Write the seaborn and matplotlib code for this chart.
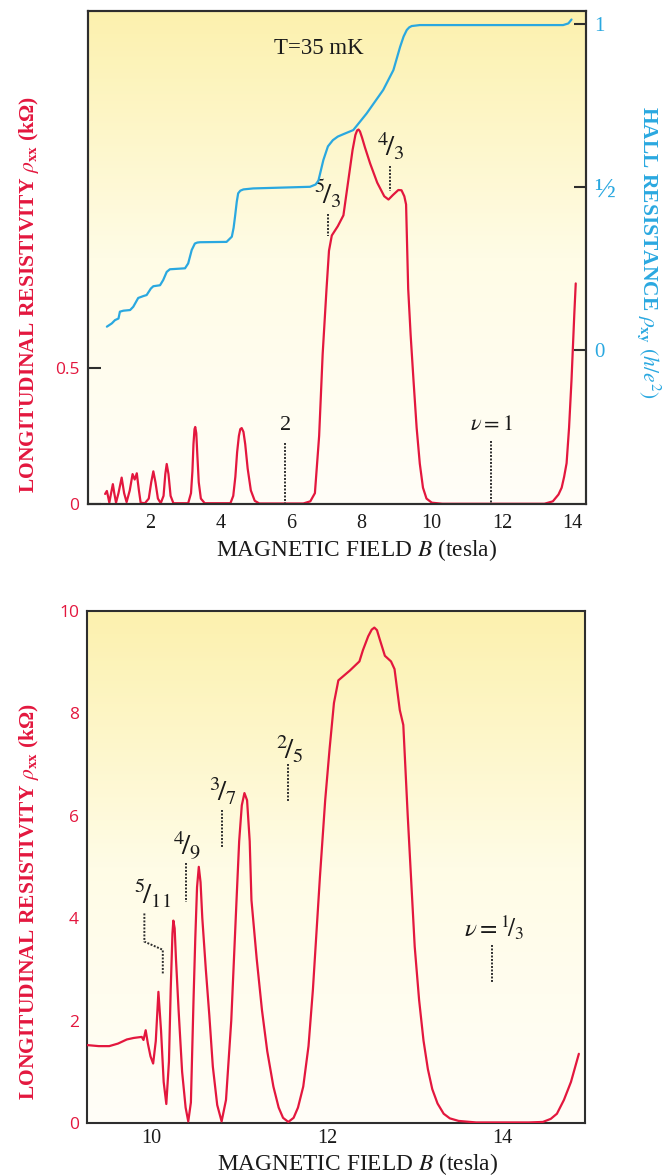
import numpy as np
import pandas as pd
import matplotlib
matplotlib.use("Agg")
import matplotlib.pyplot as plt
from matplotlib.colors import LinearSegmentedColormap
import seaborn as sns

# ---------------- data ----------------
# Top panel: longitudinal resistivity rho_xx (kOhm) vs B (tesla)
top_B = [0.72, 0.77, 0.80, 0.84, 0.89, 0.94, 0.98, 1.03, 1.10, 1.19, 1.26, 1.33,
         1.42, 1.50, 1.56, 1.62, 1.68, 1.73, 1.85, 1.96, 2.03, 2.09, 2.15, 2.22,
         2.30, 2.38, 2.43, 2.47, 2.52, 2.58, 2.66, 3.08, 3.16, 3.20, 3.23, 3.26,
         3.28, 3.31, 3.34, 3.38, 3.44, 3.55, 4.28, 4.36, 4.42, 4.47, 4.52, 4.56,
         4.60, 4.65, 4.70, 4.77, 4.86, 4.97, 5.10, 6.35, 6.55, 6.68, 6.80, 6.90,
         7.01, 7.08, 7.16, 7.33, 7.49, 7.62, 7.75, 7.83, 7.88, 7.92, 7.96, 8.02,
         8.10, 8.25, 8.45, 8.65, 8.77, 8.90, 9.05, 9.14, 9.22, 9.27, 9.33, 9.40,
         9.48, 9.57, 9.66, 9.75, 9.85, 10.0, 10.3, 13.2, 13.44, 13.60, 13.69, 13.76,
         13.83, 13.90, 13.97, 14.05, 14.09]
top_rho = [0.037, 0.048, 0.03, 0.005, 0.04, 0.073, 0.04, 0.005, 0.04, 0.097, 0.04, 0.007,
           0.05, 0.11, 0.09, 0.113, 0.05, 0.005, 0.003, 0.02, 0.08, 0.12, 0.08, 0.02,
           0.003, 0.03, 0.11, 0.147, 0.11, 0.03, 0.003, 0.003, 0.04, 0.12, 0.22, 0.275,
           0.283, 0.26, 0.18, 0.08, 0.02, 0.003, 0.003, 0.03, 0.10, 0.19, 0.25, 0.275,
           0.279, 0.265, 0.22, 0.13, 0.05, 0.012, 0.002, 0.002, 0.01, 0.04, 0.25, 0.55,
           0.79, 0.93, 0.986, 1.02, 1.06, 1.18, 1.30, 1.355, 1.372, 1.375, 1.368, 1.345,
           1.31, 1.25, 1.18, 1.13, 1.118, 1.135, 1.153, 1.152, 1.13, 1.10, 0.79, 0.62,
           0.456, 0.28, 0.148, 0.06, 0.02, 0.005, 0.001, 0.001, 0.01, 0.035, 0.06, 0.10,
           0.15, 0.28, 0.456, 0.70, 0.81]

# Top panel: Hall resistance rho_xy (h/e^2) vs B
hall_B = [0.77, 0.91, 1.00, 1.10, 1.14, 1.24, 1.43, 1.52, 1.66, 1.81, 1.90, 2.02,
          2.09, 2.28, 2.37, 2.47, 2.56, 2.99, 3.08, 3.18, 3.27, 3.34, 3.42, 4.17,
          4.32, 4.37, 4.41, 4.46, 4.50, 4.56, 4.65, 4.93, 6.54, 6.70, 6.78, 6.92,
          7.05, 7.19, 7.33, 7.48, 7.77, 8.15, 8.62, 8.91, 9.10, 9.20, 9.29, 9.36,
          9.43, 9.66, 13.73, 13.88, 13.97]
hall_rxy = [0.072, 0.082, 0.092, 0.097, 0.118, 0.121, 0.123, 0.133, 0.160, 0.166, 0.169, 0.189,
            0.196, 0.199, 0.215, 0.240, 0.248, 0.251, 0.266, 0.307, 0.327, 0.330, 0.331, 0.332,
            0.348, 0.375, 0.409, 0.455, 0.481, 0.489, 0.493, 0.496, 0.501, 0.508, 0.520, 0.583,
            0.625, 0.644, 0.655, 0.662, 0.675, 0.726, 0.798, 0.859, 0.930, 0.962, 0.982, 0.990,
            0.994, 0.997, 0.997, 1.002, 1.014]

# Bottom panel: rho_xx (kOhm) vs B
bot_B = [9.27, 9.40, 9.52, 9.62, 9.72, 9.80, 9.89, 9.91, 9.935, 9.96, 9.99, 10.02,
         10.05, 10.08, 10.11, 10.14, 10.17, 10.20, 10.22, 10.24, 10.25, 10.265, 10.28, 10.31,
         10.35, 10.39, 10.42, 10.45, 10.48, 10.50, 10.52, 10.54, 10.56, 10.58, 10.62, 10.66,
         10.70, 10.75, 10.80, 10.85, 10.91, 10.97, 11.00, 11.03, 11.06, 11.09, 11.12, 11.14,
         11.20, 11.26, 11.32, 11.39, 11.45, 11.50, 11.56, 11.62, 11.67, 11.73, 11.79, 11.84,
         11.88, 11.92, 11.98, 12.03, 12.08, 12.13, 12.26, 12.37, 12.41, 12.47, 12.51, 12.54,
         12.57, 12.60, 12.66, 12.73, 12.77, 12.83, 12.87, 12.92, 13.00, 13.05, 13.10, 13.15,
         13.20, 13.26, 13.33, 13.40, 13.50, 13.70, 14.30, 14.46, 14.55, 14.62, 14.70, 14.78,
         14.87]
bot_rho = [1.52, 1.50, 1.50, 1.55, 1.63, 1.66, 1.68, 1.62, 1.81, 1.55, 1.30, 1.16,
           1.60, 2.56, 1.80, 0.80, 0.37, 1.20, 2.60, 3.70, 3.95, 3.80, 3.20, 2.20,
           1.00, 0.30, 0.03, 0.40, 2.40, 3.60, 4.60, 5.00, 4.70, 4.00, 3.00, 2.10,
           1.10, 0.35, 0.03, 0.45, 2.00, 4.35, 5.50, 6.20, 6.44, 6.30, 5.50, 4.35,
           3.20, 2.20, 1.40, 0.71, 0.30, 0.10, 0.02, 0.10, 0.30, 0.71, 1.50, 2.60,
           3.70, 4.80, 6.30, 7.30, 8.20, 8.64, 8.83, 9.01, 9.23, 9.50, 9.63, 9.67,
           9.62, 9.45, 9.12, 9.01, 8.86, 8.06, 7.77, 6.01, 3.44, 2.40, 1.61, 1.05,
           0.66, 0.38, 0.18, 0.09, 0.04, 0.01, 0.01, 0.02, 0.08, 0.18, 0.45, 0.80,
           1.35]

top_xticks = [2, 4, 6, 8, 10, 12, 14]
top_yticks = [0, 0.5]
top_yticklabels = ["0", "0.5"]
hall_ticks = [0, 0.5, 1]
hall_ticklabels = ["0", "½", "1"]
bot_xticks = [10, 12, 14]
bot_yticks = [0, 2, 4, 6, 8, 10]

# annotations: (label, text x, text y, marker line xs, marker line ys)
top_notes = [
    (r"$^{5}\!/_{3}$", 7.05, 1.14, [7.06, 7.06], [1.065, 0.985]),
    (r"$^{4}\!/_{3}$", 8.84, 1.315, [8.80, 8.80], [1.24, 1.15]),
    ("2", 5.84, 0.29, [5.83, 5.83], [0.225, 0.0]),
    (r"$\nu = 1$", 11.70, 0.29, [11.68, 11.68], [0.23, 0.0]),
]
bot_notes = [
    (r"$^{5}\!/_{11}$", 10.01, 4.47, [9.92, 9.92, 10.13, 10.13], [4.09, 3.54, 3.38, 2.89]),
    (r"$^{4}\!/_{9}$", 10.41, 5.42, [10.39, 10.39], [5.07, 4.32]),
    (r"$^{3}\!/_{7}$", 10.82, 6.48, [10.81, 10.81], [6.11, 5.39]),
    (r"$^{2}\!/_{5}$", 11.58, 7.30, [11.56, 11.56], [7.00, 6.27]),
    (r"$\nu = {}^{1}\!/_{3}$", 13.91, 3.82, [13.88, 13.88], [3.48, 2.75]),
]

# ---------------- style ----------------
sns.set_theme(style="white")
plt.rcParams['font.family'] = ['Liberation Serif', 'DejaVu Serif']
plt.rcParams['mathtext.fontset'] = 'stix'

RED = '#E3173E'
BLUE = '#2AA8E0'
INK = '#2e2e2e'
TXT = '#1a1a1a'

fig = plt.figure(figsize=(6.65, 11.76), dpi=100)
ax1 = fig.add_axes([0.1316, 0.5714, 0.749, 0.4192])
ax2 = fig.add_axes([0.1313, 0.0451, 0.7484, 0.4356])

cmap = LinearSegmentedColormap.from_list(
    'bg', [(0.0, '#FFFEF8'), (0.5, '#FFFCE6'), (1.0, '#FCF1AE')])
grad = np.linspace(0, 1, 256).reshape(-1, 1)
for ax in (ax1, ax2):
    ax.imshow(grad, cmap=cmap, extent=[0, 1, 0, 1], transform=ax.transAxes,
              aspect='auto', origin='lower', zorder=0)

# ---------------- top panel ----------------
df_top = pd.DataFrame({'B': top_B, 'rho': top_rho})
sns.lineplot(data=df_top, x='B', y='rho', ax=ax1, color=RED, linewidth=1.6,
             sort=False, estimator=None, zorder=3)
ax1.set_xlim(0.22, 14.37)
ax1.set_ylim(0, 1.81)
ax1.set_xticks(top_xticks)
ax1.set_xticklabels([str(t) for t in top_xticks])
ax1.set_yticks(top_yticks)
ax1.set_yticklabels(top_yticklabels)
ax1.tick_params(axis='y', direction='in', length=9, width=1.5, color=INK,
                labelcolor=RED, labelsize=12.5, pad=6)
ax1.tick_params(axis='x', direction='out', length=5, width=1.5, color=INK,
                labelcolor=TXT, labelsize=14.5, pad=2)
for lbl in ax1.get_yticklabels():
    lbl.set_fontfamily('Open Sans')

ax1r = ax1.twinx()
df_hall = pd.DataFrame({'B': hall_B, 'rxy': hall_rxy})
sns.lineplot(data=df_hall, x='B', y='rxy', ax=ax1r, color=BLUE, linewidth=1.6,
             sort=False, estimator=None, zorder=3)
ax1r.set_ylim(-0.472, 1.04)
ax1r.set_yticks(hall_ticks)
ax1r.set_yticklabels(hall_ticklabels)
ax1r.tick_params(axis='y', direction='in', length=9, width=1.5, color=INK,
                 labelcolor=BLUE, labelsize=15, pad=6)
for lbl in ax1r.get_yticklabels():
    if lbl.get_text() == "½":
        lbl.set_fontsize(20)
ax1r.set_ylabel(r"HALL RESISTANCE $\rho_{\mathbf{xy}}$ $(h/e^{2})$",
                color=BLUE, fontsize=15.5, fontweight='bold', rotation=-90, labelpad=0)
ax1r.yaxis.set_label_coords(1.155, 0.511)

ax1.set_xlabel(r"MAGNETIC FIELD $B$ (tesla)", fontsize=16.8, color=TXT)
ax1.xaxis.set_label_coords(0.54, -0.068)
ax1.set_ylabel(r"LONGITUDINAL RESISTIVITY $\rho_{\mathbf{xx}}$ (kΩ)", color=RED,
               fontsize=15.5, fontweight='bold')
ax1.yaxis.set_label_coords(-0.093, 0.425)

ax1.text(0.465, 0.925, "T=35 mK", transform=ax1.transAxes, fontsize=16.5,
         ha='center', va='center', color=TXT)

for lab, tx, ty, lx, ly in top_notes:
    fs = 16 if lab in ("2",) or lab.startswith(r"$\nu") else 21
    ax1.text(tx, ty, lab, fontsize=fs, ha='center', va='center', color=TXT, zorder=5)
    ax1.plot(lx, ly, color=INK, lw=1.4, ls=(0, (1.0, 0.8)), zorder=4)

# ---------------- bottom panel ----------------
df_bot = pd.DataFrame({'B': bot_B, 'rho': bot_rho})
sns.lineplot(data=df_bot, x='B', y='rho', ax=ax2, color=RED, linewidth=1.6,
             sort=False, estimator=None, zorder=3)
ax2.set_xlim(9.27, 14.94)
ax2.set_ylim(0, 10)
ax2.set_xticks(bot_xticks)
ax2.set_xticklabels([str(t) for t in bot_xticks])
ax2.set_yticks(bot_yticks)
ax2.set_yticklabels([str(t) for t in bot_yticks])
ax2.tick_params(axis='y', direction='in', length=9, width=1.5, color=INK,
                labelcolor=RED, labelsize=12.5, pad=6)
ax2.tick_params(axis='x', direction='in', length=9, width=1.5, color=INK,
                labelcolor=TXT, labelsize=14.5, pad=4)
for lbl in ax2.get_yticklabels():
    lbl.set_fontfamily('Open Sans')
ax2.set_xlabel(r"MAGNETIC FIELD $B$ (tesla)", fontsize=16.8, color=TXT)
ax2.xaxis.set_label_coords(0.542, -0.055)
ax2.set_ylabel(r"LONGITUDINAL RESISTIVITY $\rho_{\mathbf{xx}}$ (kΩ)", color=RED,
               fontsize=15.5, fontweight='bold')
ax2.yaxis.set_label_coords(-0.093, 0.432)

for lab, tx, ty, lx, ly in bot_notes:
    fs = 18 if lab.startswith(r"$\nu") else 21
    ax2.text(tx, ty, lab, fontsize=fs, ha='center', va='center', color=TXT, zorder=5)
    ax2.plot(lx, ly, color=INK, lw=1.4, ls=(0, (1.0, 0.8)), zorder=4)

for ax in (ax1, ax1r, ax2):
    for sp in ax.spines.values():
        sp.set_color(INK)
        sp.set_linewidth(1.5)
    ax.grid(False)

fig.savefig("out.png", dpi=100)
